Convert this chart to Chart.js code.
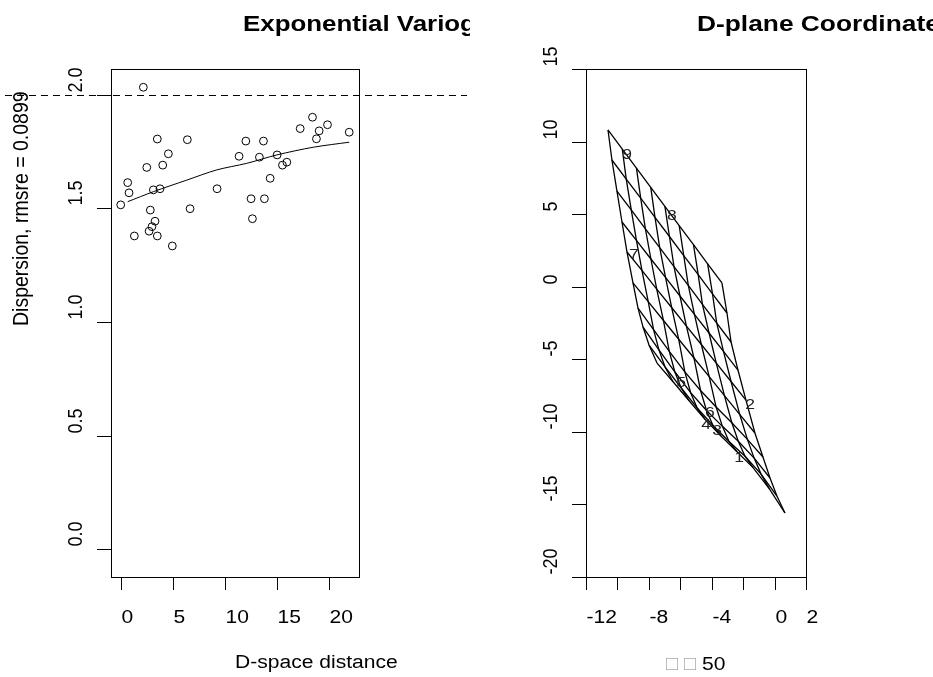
<!DOCTYPE html>
<html>
<head>
<meta charset="utf-8">
<script src="https://cdn.jsdelivr.net/npm/chart.js@4.4.1/dist/chart.umd.min.js"></script>
<style>
  html, body { margin: 0; padding: 0; background: #fff; }
  #wrap { position: relative; width: 933px; height: 677px; overflow: hidden; }
  canvas { position: absolute; top: 0; }
  #left { left: 0; }
  #right { left: 470px; }
</style>
</head>
<body>
<div id="wrap">
  <canvas id="left" width="470" height="677"></canvas>
  <canvas id="right" width="463" height="677"></canvas>
</div>
<script>
// ---- variogram panel ----
var distX = [2.17, 3.51, 6.39, 4.57, 2.50, 4.03, 0.67, 0.80, 3.13, 3.77, 0.00, 2.84, 6.65,
             3.29, 3.00, 2.72, 1.31, 3.51, 4.95, 9.24, 12.00, 13.69, 11.35, 13.30, 15.00,
             14.33, 15.51, 15.93, 12.50, 13.78, 12.63, 17.21, 18.39, 19.03, 19.83, 18.77, 21.91];
var dispY = [2.034, 1.806, 1.803, 1.741, 1.681, 1.691, 1.614, 1.569, 1.582, 1.587, 1.516, 1.493, 1.499,
             1.444, 1.420, 1.400, 1.379, 1.379, 1.335, 1.587, 1.797, 1.797, 1.730, 1.726, 1.736,
             1.633, 1.691, 1.704, 1.543, 1.543, 1.455, 1.852, 1.902, 1.842, 1.869, 1.807, 1.836];
var fitX = [0.67, 3.13, 6.33, 9.21, 12.09, 14.97, 18.48, 21.91];
var fitY = [1.530, 1.574, 1.625, 1.670, 1.699, 1.736, 1.770, 1.792];
var sillLevel = 2.0;
var leftXTicks = [0, 5, 10, 15, 20];
var leftYTicks = [0, 0.5, 1, 1.5, 2];
var leftYLabels = ['0.0', '0.5', '1.0', '1.5', '2.0'];

// ---- D-plane panel: deformed grid, rows of vertices (top row first) ----
var gridX = [
  [-10.60, -9.69, -8.79, -7.88, -6.98, -6.07, -5.16, -4.26, -3.35],
  [-10.35, -9.44, -8.52, -7.61, -6.69, -5.78, -4.86, -3.95, -3.03],
  [-10.03, -9.12, -8.22, -7.31, -6.40, -5.49, -4.59, -3.68, -2.77],
  [-9.71, -8.79, -7.87, -6.94, -6.02, -5.10, -4.17, -3.25, -2.33],
  [-9.39, -8.44, -7.50, -6.55, -5.61, -4.66, -3.71, -2.77, -1.82],
  [-9.01, -8.04, -7.07, -6.10, -5.13, -4.16, -3.19, -2.22, -1.25],
  [-8.69, -7.70, -6.70, -5.71, -4.71, -3.72, -2.72, -1.73, -0.74],
  [-8.37, -7.36, -6.35, -5.34, -4.33, -3.32, -2.31, -1.30, -0.29],
  [-7.99, -6.97, -5.95, -4.94, -3.92, -2.90, -1.88, -0.86, 0.15],
  [-7.48, -6.46, -5.45, -4.43, -3.41, -2.39, -1.37, -0.35, 0.66]
];
var gridY = [
  [10.80, 9.48, 8.17, 6.85, 5.53, 4.21, 2.90, 1.58, 0.26],
  [8.73, 7.41, 6.10, 4.78, 3.46, 2.14, 0.83, -0.49, -1.81],
  [6.59, 5.29, 3.99, 2.69, 1.39, 0.09, -1.21, -2.51, -3.81],
  [4.46, 3.19, 1.91, 0.64, -0.64, -1.91, -3.19, -4.46, -5.74],
  [2.39, 1.12, -0.16, -1.43, -2.71, -3.98, -5.26, -6.53, -7.81],
  [0.26, -1.03, -2.33, -3.62, -4.91, -6.20, -7.50, -8.79, -10.08],
  [-1.47, -2.96, -4.45, -5.87, -7.15, -8.29, -9.37, -10.52, -11.73],
  [-2.78, -4.35, -5.86, -7.30, -8.53, -9.62, -10.65, -11.81, -13.18],
  [-4.02, -5.53, -6.96, -8.33, -9.56, -10.66, -11.68, -12.91, -14.42],
  [-5.26, -6.55, -7.84, -9.13, -10.29, -11.37, -12.46, -13.89, -15.59]
];
var stationIds = ['1', '2', '3', '4', '5', '6', '7', '8', '9'];
var stationX = [-2.26, -1.56, -3.66, -4.36, -5.95, -4.11, -8.95, -6.53, -9.39];
var stationY = [-11.80, -8.15, -9.94, -9.53, -6.63, -8.70, 2.18, 4.87, 9.07];
var rightXTicks = [-12, -10, -8, -6, -4, -2, 0, 2];
var rightXLabeled = [-12, -8, -4, 0, 2];
var rightYTicks = [15, 10, 5, 0, -5, -10, -15, -20];

var FONT = '"Liberation Sans", Arial, Helvetica, sans-serif';
var SX = 1.17;   // glyphs come out a little wide
var TICK = 13;

function txt(ctx, s, x, y, size, opt) {
  opt = opt || {};
  var sx = opt.sx || SX;
  ctx.save();
  ctx.translate(x, y);
  if (opt.rot) { ctx.rotate(-Math.PI / 2); ctx.scale(1, sx); }
  else ctx.scale(sx, 1);
  ctx.font = (opt.bold ? 'bold ' : '') + size + 'px ' + FONT;
  ctx.fillStyle = opt.color || '#000';
  ctx.textAlign = opt.align || 'left';
  ctx.textBaseline = opt.baseline || 'alphabetic';
  ctx.fillText(s, 0, 0);
  ctx.restore();
}

function box(ctx, ca) {
  ctx.save();
  ctx.strokeStyle = '#000';
  ctx.lineWidth = 1;
  ctx.strokeRect(Math.round(ca.left) + 0.5, Math.round(ca.top) + 0.5,
                 Math.round(ca.right - ca.left), Math.round(ca.bottom - ca.top));
  ctx.restore();
}

function xTicks(ctx, chart, ticks, labeled) {
  var xs = chart.scales.x, ca = chart.chartArea;
  ctx.save();
  ctx.strokeStyle = '#000';
  ctx.lineWidth = 1;
  ticks.forEach(function (v) {
    var px = Math.round(xs.getPixelForValue(v)) + 0.5;
    ctx.beginPath();
    ctx.moveTo(px, ca.bottom);
    ctx.lineTo(px, ca.bottom + TICK);
    ctx.stroke();
    if (labeled.indexOf(v) >= 0) txt(ctx, String(v), px, 623, 18);
  });
  ctx.restore();
}

function yTicks(ctx, chart, ticks, labels, labelX) {
  var ys = chart.scales.y, ca = chart.chartArea;
  ctx.save();
  ctx.strokeStyle = '#000';
  ctx.lineWidth = 1;
  ticks.forEach(function (v, i) {
    var py = Math.round(ys.getPixelForValue(v)) + 0.5;
    ctx.beginPath();
    ctx.moveTo(ca.left - TICK - 1, py);
    ctx.lineTo(ca.left, py);
    ctx.stroke();
    txt(ctx, labels[i], labelX, py - 3, 18, { rot: true });
  });
  ctx.restore();
}

var leftDecor = {
  id: 'leftDecor',
  afterDraw: function (chart) {
    var ctx = chart.ctx, ca = chart.chartArea, ys = chart.scales.y;
    box(ctx, ca);
    xTicks(ctx, chart, leftXTicks, leftXTicks);
    yTicks(ctx, chart, leftYTicks, leftYLabels, 82);
    // horizontal reference line at the sill
    var py = Math.round(ys.getPixelForValue(sillLevel)) + 0.5;
    ctx.save();
    ctx.strokeStyle = '#000';
    ctx.lineWidth = 1;
    ctx.setLineDash([7, 5]);
    ctx.beginPath();
    ctx.moveTo(5, py);
    ctx.lineTo(467, py);
    ctx.stroke();
    ctx.restore();
    txt(ctx, 'Exponential Variogram', 243, 31, 22.5, { bold: true, sx: 1.15 });
    txt(ctx, 'D-space distance', 235, 668, 18);
    txt(ctx, 'Dispersion, rmsre = 0.0899', 28, 326, 19.5, { rot: true });
  }
};

var rightDecor = {
  id: 'rightDecor',
  afterDraw: function (chart) {
    var ctx = chart.ctx, ca = chart.chartArea;
    var xs = chart.scales.x, ys = chart.scales.y;
    box(ctx, ca);
    xTicks(ctx, chart, rightXTicks, rightXLabeled);
    yTicks(ctx, chart, rightYTicks, rightYTicks.map(String), 87);
    stationIds.forEach(function (id, i) {
      txt(ctx, id, xs.getPixelForValue(stationX[i]), ys.getPixelForValue(stationY[i]), 15,
          { align: 'center', baseline: 'middle', color: '#222' });
    });
    txt(ctx, 'D-plane Coordinates', 227, 31, 22.5, { bold: true, sx: 1.17 });
    // sub label: two unrendered glyph boxes followed by 50
    txt(ctx, '\u25A1', 196, 670, 20, { color: '#aaa', sx: 1.0 });
    txt(ctx, '\u25A1', 214, 670, 20, { color: '#aaa', sx: 1.0 });
    txt(ctx, '50', 232, 670, 18);
  }
};

function baseOptions(xmin, xmax, ymin, ymax, pad) {
  return {
    responsive: false,
    animation: false,
    layout: { padding: pad },
    plugins: { legend: { display: false }, tooltip: { enabled: false } },
    scales: {
      x: { type: 'linear', min: xmin, max: xmax, display: false },
      y: { type: 'linear', min: ymin, max: ymax, display: false }
    }
  };
}

new Chart(document.getElementById('left').getContext('2d'), {
  type: 'scatter',
  data: {
    datasets: [
      {
        data: distX.map(function (x, i) { return { x: x, y: dispY[i] }; }),
        pointStyle: 'circle',
        pointRadius: 3.9,
        borderColor: '#000',
        backgroundColor: 'rgba(0,0,0,0)',
        borderWidth: 1
      },
      {
        data: fitX.map(function (x, i) { return { x: x, y: fitY[i] }; }),
        showLine: true,
        pointRadius: 0,
        borderColor: '#000',
        borderWidth: 1,
        tension: 0.3
      }
    ]
  },
  options: baseOptions(-0.931, 22.85, -0.1233, 2.1145, { left: 111, right: 111, top: 69, bottom: 100 }),
  plugins: [leftDecor]
});

// one line per grid row, then one per grid column
var meshSets = [];
gridX.forEach(function (row, i) {
  meshSets.push({ data: row.map(function (x, j) { return { x: x, y: gridY[i][j] }; }) });
});
gridX[0].forEach(function (_, j) {
  meshSets.push({ data: gridX.map(function (row, i) { return { x: row[j], y: gridY[i][j] }; }) });
});
meshSets.forEach(function (d) {
  d.showLine = true;
  d.pointRadius = 0;
  d.borderColor = '#000';
  d.borderWidth = 1.3;
  d.tension = 0;
});

new Chart(document.getElementById('right').getContext('2d'), {
  type: 'scatter',
  data: { datasets: meshSets },
  options: baseOptions(-12, 2, -20, 15, { left: 116, right: 127, top: 69, bottom: 100 }),
  plugins: [rightDecor]
});
</script>
</body>
</html>
